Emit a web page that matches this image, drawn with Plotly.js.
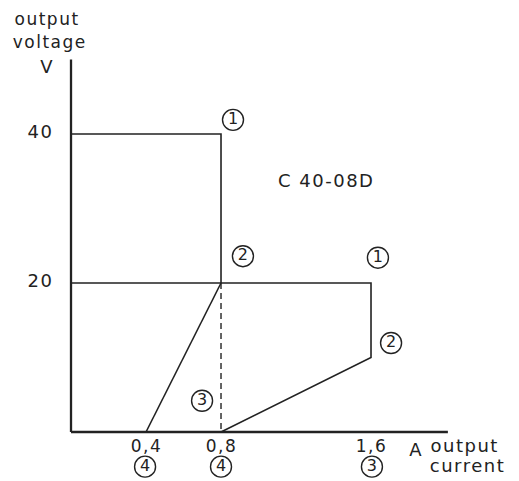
<!DOCTYPE html>
<html>
<head>
<meta charset="utf-8">
<script src="https://cdn.plot.ly/plotly-3.0.1.min.js"></script>
<style>
html,body{margin:0;padding:0;background:#fff;}
#chart{width:519px;height:481px;}
#chart .annotation-text{letter-spacing:1.5px;}
</style>
</head>
<body>
<div id="chart"></div>
<script>
// Characteristic curves (output current A, output voltage V)
const limit40X = [0, 0.8, 0.8];
const limit40Y = [40, 40, 20];
const limit20X = [0, 1.6, 1.6, 0.8];
const limit20Y = [20, 20, 10, 0];
const foldbackX = [0.4, 0.8];
const foldbackY = [0, 20];
const dashX = [0.8, 0.8];
const dashY = [20, 0];

// Axes extent
const xAxisMax = 2.01;
const yAxisMax = 50;

// Tick labels
const xTickVals = [0.4, 0.8, 1.6];
const xTickText = ['0,4', '0,8', '1,6'];
const yTickVals = [20, 40];
const yTickText = ['20', '40'];

// Circled point markers
const markText = ['1', '2', '1', '2', '3', '4', '4', '3'];
const markX = [0.864, 0.917, 1.637, 1.707, 0.699, 0.395, 0.8, 1.605];
const markY = [41.9, 23.6, 23.4, 11.95, 4.2, -4.65, -4.65, -4.65];

const ink = '#222';
const fam = 'DejaVu Sans';
const line = {color: ink, width: 1.6};
const axisLine = {color: ink, width: 2.3};

const traces = [
  {x: [0, 0], y: [0, yAxisMax], mode: 'lines', line: axisLine},
  {x: [0, xAxisMax], y: [0, 0], mode: 'lines', line: axisLine},
  {x: limit40X, y: limit40Y, mode: 'lines', line: line},
  {x: limit20X, y: limit20Y, mode: 'lines', line: line},
  {x: foldbackX, y: foldbackY, mode: 'lines', line: line},
  {x: dashX, y: dashY, mode: 'lines', line: {color: ink, width: 1.4, dash: '6px,4px'}},
  {x: markX, y: markY, mode: 'markers+text', text: markText, textposition: 'middle center',
   textfont: {family: fam, size: 16, color: ink},
   marker: {symbol: 'circle-open', size: 21, color: ink, line: {width: 1.4, color: ink}}}
];

function label(text, x, y, opts) {
  return Object.assign({text: text, x: x, y: y, xref: 'x', yref: 'y', showarrow: false,
    xanchor: 'center', yanchor: 'middle', font: {family: fam, size: 18, color: ink}}, opts || {});
}

const annotations = [];
xTickVals.forEach((v, i) => annotations.push(label(xTickText[i], v, -1.85, {font: {family: fam, size: 17, color: ink}})));
yTickVals.forEach((v, i) => annotations.push(label(yTickText[i], -0.165, v + 0.4)));
annotations.push(label('output', -0.128, 53.9, {yanchor: 'bottom', borderpad: 0, font: {family: fam, size: 17, color: ink}}));
annotations.push(label('voltage', -0.112, 53.8, {yanchor: 'top', borderpad: 0, font: {family: fam, size: 17, color: ink}}));
annotations.push(label('V', -0.123, 49.1));
annotations.push(label('A', 1.845, -2.4));
annotations.push(label('output', 1.93, -1.75, {xanchor: 'left'}));
annotations.push(label('current', 1.93, -4.55, {xanchor: 'left'}));
annotations.push(label('C 40-08D', 1.36, 33.8));

const layout = {
  width: 519, height: 481,
  margin: {l: 0, r: 0, t: 0, b: 0},
  paper_bgcolor: '#fff', plot_bgcolor: '#fff',
  showlegend: false,
  xaxis: {range: [-0.3787, 2.3893], visible: false, fixedrange: true},
  yaxis: {range: [-6.577, 57.99], visible: false, fixedrange: true},
  annotations: annotations
};

Plotly.newPlot('chart', traces, layout, {displayModeBar: false, staticPlot: true});
</script>
</body>
</html>
